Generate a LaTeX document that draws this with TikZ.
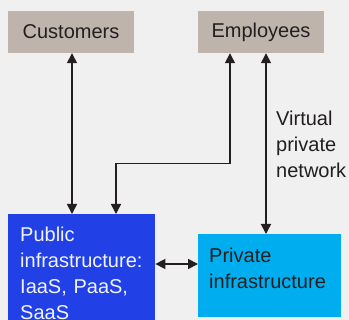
\documentclass[tikz,border=0pt]{standalone}
\usepackage{fontspec}
\setmainfont{Liberation Sans}
\usetikzlibrary{arrows.meta}
\definecolor{bg}{HTML}{F0F0F0}
\definecolor{taupe}{HTML}{BEB4AC}
\definecolor{pubblue}{HTML}{2140E6}
\definecolor{privcyan}{HTML}{00AEEF}
\definecolor{ink}{HTML}{231F20}
\tikzset{
  every node/.style={font=\fontsize{20pt}{26pt}\selectfont, inner sep=0pt},
  actor/.style={fill=taupe, text=ink, minimum width=126pt, minimum height=42pt},
  block/.style={draw=none},
  blocktext/.style={anchor=north west, align=left},
  link/.style={ink, line width=1.5pt, {Triangle[length=10pt,width=10pt]}-{Triangle[length=10pt,width=10pt]}},
}
\begin{document}
\begin{tikzpicture}[x=1pt, y=-1pt]
  \useasboundingbox[fill=bg] (0,0) rectangle (349,320);

  % user groups
  \node[actor] (cust) at (71,32) {Customers};
  \node[actor] (emp) at (261,32) {Employees};

  % infrastructure blocks
  \node[block, fill=pubblue, minimum width=147pt, minimum height=116pt, anchor=north west] (pub) at (8,214) {};
  \node[blocktext, text=white!94!pubblue, text width=130pt] (pubtext) at ([xshift=12pt, yshift=-12.4pt]pub.north west)
    {Public\\infrastructure:\\IaaS, PaaS,\\SaaS};
  \node[block, fill=privcyan, minimum width=143pt, minimum height=83pt, anchor=north west] (priv) at (198,234) {};
  \node[blocktext, text=ink, text width=130pt] (privtext) at ([xshift=11pt, yshift=-13.4pt]priv.north west)
    {Private\\infrastructure};

  % VPN label
  \node[blocktext, text=ink, text width=80pt] (vpn) at (276,110.4) {Virtual\\private\\network};

  % connectors
  \coordinate (bend) at (116,163.5);
  \draw[link] ([xshift=1pt]cust.south) -- ([xshift=1pt]cust.south |- pub.north);
  \draw[link] ([xshift=-31pt]emp.south) |- (bend) -- (bend |- pub.north);
  \draw[link] ([xshift=5pt]emp.south) -- ([xshift=5pt]emp.south |- priv.north);
  \draw[link] (pub.east |- 0,264) -- (priv.west |- 0,264);
\end{tikzpicture}
\end{document}
